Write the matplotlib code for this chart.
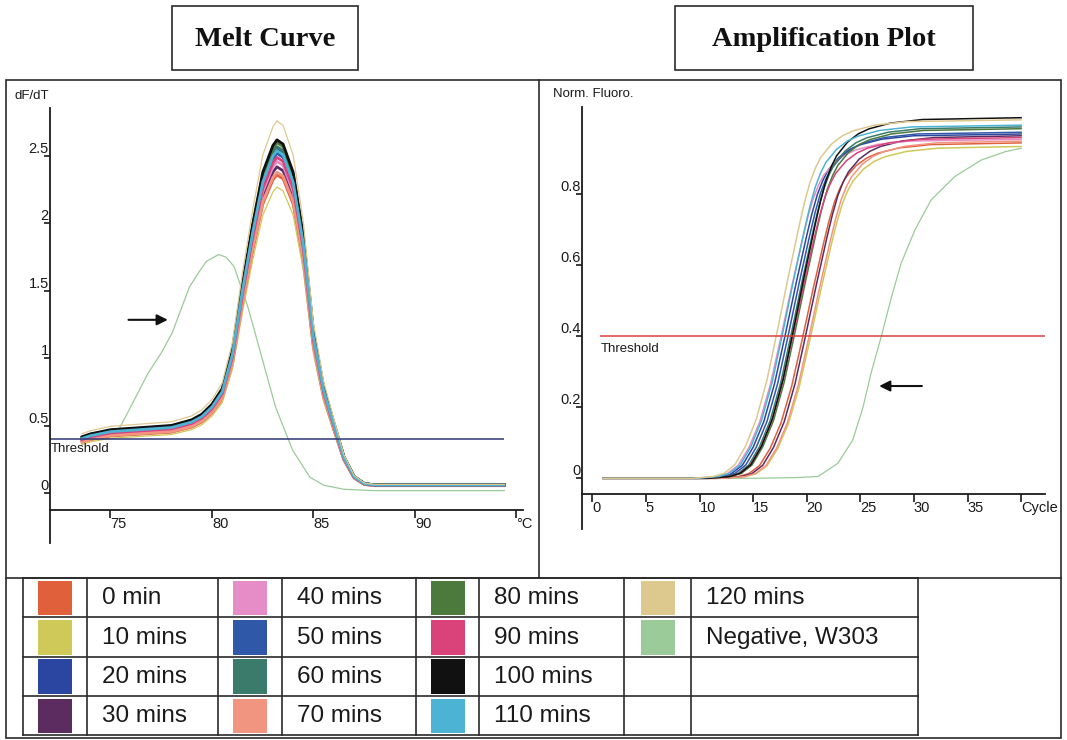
import matplotlib
matplotlib.use("Agg")
import matplotlib.pyplot as plt
from matplotlib.patches import Rectangle

W, H = 1067, 740

# samples, in legend order
samples = ["0 min", "10 mins", "20 mins", "30 mins", "40 mins", "50 mins", "60 mins",
           "70 mins", "80 mins", "90 mins", "100 mins", "110 mins", "120 mins"]
colors = ["#e0603c", "#cfc95a", "#2b46a0", "#5c2c60", "#e68cc6", "#3058a8", "#3b7b6c",
          "#f29580", "#4c7a3c", "#d9437a", "#111111", "#4db3d4", "#ddc88e"]
neg_label = "Negative, W303"
neg_color = "#9acb98"

# melt curve: peak dF/dT per sample, and the shared trace shape (peak = 2.5)
melt_peak = [2.36, 2.27, 2.55, 2.42, 2.46, 2.52, 2.57, 2.38, 2.60, 2.49, 2.62, 2.54, 2.76]
melt_temp = [73.6, 74.0, 75.0, 76.0, 77.0, 78.0, 79.0, 79.5, 80.0, 80.5, 81.0, 81.5, 82.0,
             82.5, 83.0, 83.2, 83.5, 84.0, 84.5, 85.0, 85.5, 86.0, 86.5, 87.0, 87.5, 88.0,
             90.0, 92.0, 94.4]
melt_trace = [0.40, 0.42, 0.45, 0.46, 0.47, 0.48, 0.52, 0.56, 0.63, 0.74, 1.01, 1.48, 1.90,
              2.27, 2.46, 2.50, 2.47, 2.27, 1.82, 1.14, 0.75, 0.50, 0.26, 0.12, 0.07, 0.06,
              0.06, 0.06, 0.06]
neg_melt_temp = [73.6, 74.5, 75.4, 75.75, 76.3, 76.85, 77.5, 78.04, 78.89, 79.4, 79.73,
                 80.33, 80.7, 81.09, 81.77, 82.45, 83.13, 83.97, 84.82, 85.5, 86.5, 88.0,
                 94.4]
neg_melt = [0.40, 0.43, 0.47, 0.57, 0.73, 0.89, 1.04, 1.19, 1.53, 1.65, 1.72, 1.77, 1.75,
            1.68, 1.38, 1.01, 0.64, 0.32, 0.12, 0.06, 0.03, 0.02, 0.02]
melt_threshold = 0.40

# amplification: Ct, plateau, and the shared rise relative to Ct (fraction of plateau)
amp_ct = [19.6, 20.3, 18.0, 19.9, 17.6, 18.3, 18.6, 20.2, 18.9, 18.7, 18.8, 17.8, 17.3]
amp_plateau = [0.945, 0.935, 0.97, 0.965, 0.955, 0.975, 0.99, 0.95, 0.985, 0.96, 1.016,
               0.995, 1.01]
amp_offset = [-8, -6, -5, -4, -3, -2, -1, 0, 1, 2, 2.5, 3, 3.5, 4, 5, 6, 7, 9, 12]
amp_frac = [0.0, 0.005, 0.014, 0.038, 0.09, 0.165, 0.275, 0.417, 0.565, 0.705, 0.77,
            0.825, 0.865, 0.895, 0.932, 0.955, 0.969, 0.985, 0.995]
neg_amp_cycle = [1, 15, 19, 21.05, 22.9, 24.3, 25.25, 26.0, 26.96, 27.9, 28.8, 30.1, 31.6,
                 33.8, 36.3, 38.5, 40]
neg_amp = [0.0, 0.0, 0.002, 0.005, 0.042, 0.108, 0.20, 0.296, 0.40, 0.51, 0.605, 0.70,
           0.784, 0.85, 0.897, 0.92, 0.93]
amp_threshold = 0.40

narrow = ["Liberation Sans Narrow", "Liberation Sans"]

fig = plt.figure(figsize=(W / 100, H / 100), dpi=100)

# page layer in pixel coordinates: frames, title boxes, legend table
page = fig.add_axes([0, 0, 1, 1])
page.set_xlim(0, W)
page.set_ylim(H, 0)
page.axis("off")

frame_kw = dict(color="#2a2a2a", lw=1.2)
page.add_patch(Rectangle((6, 80), 1055, 658, fill=False, ec="#2a2a2a", lw=1.2))
page.plot([539, 539], [80, 578], **frame_kw)
page.plot([6, 1061], [578, 578], **frame_kw)

for (x0, x1), title in [((172, 358), "Melt Curve"), ((675, 973), "Amplification Plot")]:
    page.add_patch(Rectangle((x0, 6), x1 - x0, 64, fill=False, ec="#2a2a2a", lw=1.2))
    page.text((x0 + x1) / 2, 39, title, ha="center", va="center", fontsize=20.5,
              fontweight="bold", family="Liberation Serif", color="#111111")

# legend table, filled column by column
col_edges = [22.7, 87.3, 218.3, 281.7, 416, 479, 623.6, 691.4, 918]
row_edges = [578, 617, 656.5, 696, 735]
for x in col_edges:
    page.plot([x, x], [row_edges[0], row_edges[-1]], **frame_kw)
for y in row_edges:
    page.plot([col_edges[0], col_edges[-1]], [y, y], **frame_kw)

entries = list(zip(samples, colors)) + [(neg_label, neg_color)]
for i, (name, c) in enumerate(entries):
    col, row = divmod(i, 4)
    sx0, sx1 = col_edges[2 * col], col_edges[2 * col + 1]
    ty0, ty1 = row_edges[row], row_edges[row + 1]
    cx = (sx0 + sx1) / 2
    page.add_patch(Rectangle((cx - 17, ty0 + 2.5), 34, ty1 - ty0 - 4.5, color=c, lw=0))
    page.text(sx1 + 15, (ty0 + ty1) / 2 + 1, name, ha="left", va="center",
              fontsize=17.5, family="Liberation Sans", color="#1a1a1a")


def style_axis(ax, xaxis_y):
    ax.patch.set_alpha(0)
    for s in ("top", "right"):
        ax.spines[s].set_visible(False)
    ax.spines["bottom"].set_position(("data", xaxis_y))
    for s in ("left", "bottom"):
        ax.spines[s].set_linewidth(1.3)
        ax.spines[s].set_color("#1a1a1a")
    ax.tick_params(axis="x", direction="out", length=5.5, width=1.2, pad=-0.5,
                   labelsize=10.5, colors="#1a1a1a")
    ax.tick_params(axis="y", direction="out", length=4.5, width=1.2, pad=-3.8,
                   labelsize=10.5, colors="#1a1a1a")
    for lab in ax.get_xticklabels():
        lab.set_ha("left")
        lab.set_family(narrow)
    for lab in ax.get_yticklabels():
        lab.set_va("bottom")
        lab.set_family(narrow)


# melt curve panel
axL = fig.add_axes([49.6 / W, 1 - 542.7 / H, (523.3 - 49.6) / W, (542.7 - 108) / H])
axL.set_xlim(72.0, 95.335)
axL.set_ylim(-0.366, 2.856)
axL.set_xticks([75, 80, 85, 90, 95], ["75", "80", "85", "90", "°C"])
axL.set_yticks([0, 0.5, 1, 1.5, 2, 2.5], ["0", "0.5", "1", "1.5", "2", "2.5"])
style_axis(axL, -0.124)

axL.plot(neg_melt_temp, neg_melt, color=neg_color, lw=0.9)
for name, c, pk in zip(samples, colors, melt_peak):
    lw = 0.9 if name in ("10 mins", "120 mins") else 2.0
    axL.plot(melt_temp, [v * pk / 2.5 for v in melt_trace], color=c, lw=lw)
axL.hlines(melt_threshold, 72.0, 94.4, color="#2c3577", lw=1.1)
axL.text(72.05, melt_threshold - 0.03, "Threshold", ha="left", va="top",
         fontsize=9.5, family=narrow, color="#1a1a1a")
axL.text(-0.002, 1.014, "dF/dT", transform=axL.transAxes, ha="right", va="bottom",
         fontsize=9.5, family=narrow, color="#1a1a1a")
axL.annotate("", xy=(77.96, 1.286), xytext=(75.75, 1.286),
             arrowprops=dict(arrowstyle="-|>", color="#111111", lw=1.5, mutation_scale=16))

# amplification panel
axR = fig.add_axes([582 / W, 1 - 529.3 / H, (1044.7 - 582) / W, (529.3 - 106.7) / H])
axR.set_xlim(-0.961, 42.2)
axR.set_ylim(-0.1437, 1.047)
axR.set_xticks(list(range(0, 45, 5)),
               [str(v) for v in range(0, 40, 5)] + ["Cycle"])
axR.set_yticks([0, 0.2, 0.4, 0.6, 0.8], ["0", "0.2", "0.4", "0.6", "0.8"])
style_axis(axR, -0.045)

axR.plot(neg_amp_cycle, neg_amp, color=neg_color, lw=0.9)
for name, c, ct, top in zip(samples, colors, amp_ct, amp_plateau):
    xs = [1] + [ct + o for o in amp_offset if 1 < ct + o < 40] + [40]
    ys = [0.0] + [top * f for o, f in zip(amp_offset, amp_frac) if 1 < ct + o < 40] + [top]
    axR.plot(xs, ys, color=c, lw=1.1)
axR.hlines(amp_threshold, 0.7, 42.2, color="#d8403c", lw=1.1)
axR.text(0.8, amp_threshold - 0.02, "Threshold", ha="left", va="top",
         fontsize=9.5, family=narrow, color="#1a1a1a")
axR.text(-0.063, 1.016, "Norm. Fluoro.", transform=axR.transAxes, ha="left", va="bottom",
         fontsize=9.5, family=narrow, color="#1a1a1a")
axR.annotate("", xy=(26.5, 0.26), xytext=(31.0, 0.26),
             arrowprops=dict(arrowstyle="-|>", color="#111111", lw=1.5, mutation_scale=16))

fig.savefig("out.png", dpi=100, facecolor="white")
